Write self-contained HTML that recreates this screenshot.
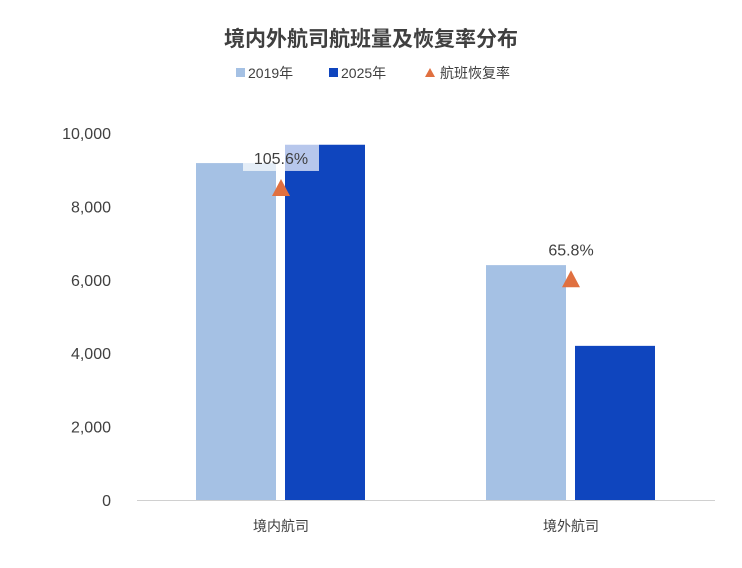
<!DOCTYPE html>
<html><head><meta charset="utf-8"><style>
body{margin:0;background:#fff;}
svg{display:block;font-family:"Liberation Sans","Noto Sans CJK SC",sans-serif;}
</style></head><body>
<svg id="chart" width="742" height="568">
<text x="371" y="46" text-anchor="middle" font-size="21" font-weight="bold" fill="#404040">境内外航司航班量及恢复率分布</text>
<g>
<rect x="236" y="68" width="9" height="9" fill="#a5c1e4"/>
<text x="248" y="78" font-size="14" fill="#404040">2019年</text>
<rect x="329" y="68" width="9" height="9" fill="#0f45be"/>
<text x="341" y="78" font-size="14" fill="#404040">2025年</text>
<polygon points="430,68 435,77 425,77" fill="#e07040"/>
<text x="440" y="78" font-size="14" fill="#404040">航班恢复率</text>
</g>
<g id="plot"></g>
</svg>
<script>
const categories=["境内航司","境外航司"];
const values2019=[9180,6400];
const values2025=[9680,4200];
const recovery=[105.6,65.8];
const yTicks=[0,2000,4000,6000,8000,10000];
const ns="http://www.w3.org/2000/svg";
const g=document.getElementById('plot');
function y(v){return 500-v/10000*367;}
function y2(p){return 500-(p+30)/160*367;}
function cx(i){return 281+i*290;}
function mk(t,a){const e=document.createElementNS(ns,t);for(const k in a)e.setAttribute(k,a[k]);g.appendChild(e);return e;}
yTicks.forEach(v=>{
 const t=mk('text',{x:111,y:y(v)+6,'text-anchor':'end','font-size':16,fill:'#404040'});
 t.textContent=v.toLocaleString('en-US');
 
 
});
const ax=mk('line',{x1:137,x2:715,y1:500.5,y2:500.5,stroke:'#d0d0d0','stroke-width':1});


categories.forEach((c,i)=>{
 const b1=mk('rect',{x:cx(i)-85,y:y(values2019[i]),width:80,height:500-y(values2019[i]),fill:'#a5c1e4'});
 
 
 const b2=mk('rect',{x:cx(i)+4,y:y(values2025[i]),width:80,height:500-y(values2025[i]),fill:'#0f45be'});
 
 
 const py=y2(recovery[i]);
 const bg=mk('rect',{x:cx(i)-38,y:py-46,width:76,height:28,fill:'#fff','fill-opacity':0.7});
 
 
 const lt=mk('text',{x:cx(i),y:py-25,'text-anchor':'middle','font-size':16,fill:'#404040'});
 lt.textContent=recovery[i].toFixed(1)+'%';
 
 
 const m=mk('polygon',{points:`${cx(i)},${py-10} ${cx(i)+9},${py+7} ${cx(i)-9},${py+7}`,fill:'#e07040'});
 
 
 const ct=mk('text',{x:cx(i),y:531,'text-anchor':'middle','font-size':14,fill:'#404040'});
 ct.textContent=c;
 
 
});
</script>
</body></html>
